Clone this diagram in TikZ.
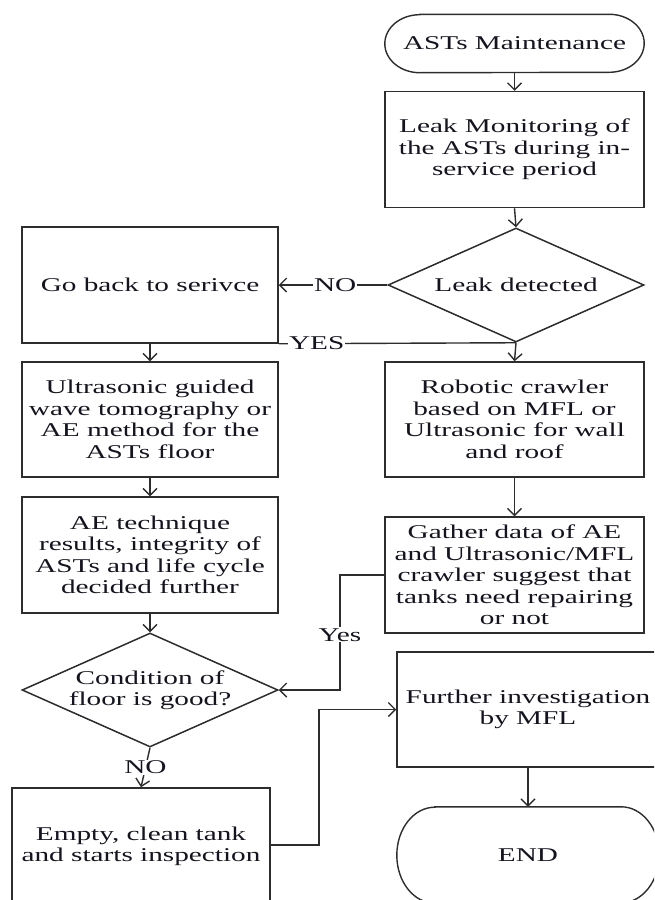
\documentclass[tikz,border=0pt]{standalone}
\usepackage{fontspec}
\setmainfont{Liberation Serif}[FakeStretch=1.5]
\usetikzlibrary{arrows.meta,shapes.geometric}
\definecolor{ln}{RGB}{45,45,45}
\definecolor{tx}{RGB}{20,20,30}
\begin{document}
\begin{tikzpicture}[x=1pt,y=-1pt,
  every node/.style={font=\fontsize{19.5}{21.5}\selectfont, text=tx},
  box/.style={draw=ln, line width=1.5pt, rectangle, inner sep=0pt, align=center},
  term/.style={draw=none, rectangle, inner sep=0pt, align=center},
  dec/.style={draw=ln, line width=1.5pt, diamond, aspect=2.25, inner sep=0pt, align=center,
    minimum width=256pt, minimum height=114pt},
  ln/.style={draw=ln, line width=1.4pt},
  ar/.style={draw=ln, line width=1.4pt, -{Straight Barb[length=7pt,width=14pt]}},
  lab/.style={fill=white, inner sep=1pt}
]
\useasboundingbox (0,0) rectangle (654,900);
\clip (0,0) rectangle (654,900);

% start terminal
\node[term, minimum width=259pt, minimum height=58pt] (start) at (514.5,43.5) {ASTs Maintenance};
\draw[ln] ([xshift=35pt]start.north west) -- ([xshift=-35pt]start.north east)
  arc[start angle=90,end angle=-90,x radius=35pt,y radius=29pt]
  -- ([xshift=35pt]start.south west)
  arc[start angle=270,end angle=90,x radius=35pt,y radius=29pt] -- cycle;

\node[box, minimum width=259pt, minimum height=116pt] (mon) at (514.5,149.5)
  {Leak Monitoring of\\the ASTs during in-\\service period};
\node[dec] (d1) at (516,285) {Leak detected};
\node[box, minimum width=256pt, minimum height=116pt] (back) at (150,285) {Go back to serivce};
\node[box, minimum width=256pt, minimum height=115pt] (ultra) at (150,419.5)
  {Ultrasonic guided\\wave tomography or\\AE method for the\\ASTs floor};
\node[box, minimum width=259pt, minimum height=115pt] (robot) at (514.5,419.5)
  {Robotic crawler\\based on MFL or\\Ultrasonic for wall\\and roof};
\node[box, minimum width=256pt, minimum height=116pt] (ae) at (150,555)
  {AE technique\\results, integrity of\\ASTs and life cycle\\decided further};
\node[box, minimum width=259pt, minimum height=116pt] (gather) at (514.5,575)
  {Gather data of AE\\and Ultrasonic/MFL\\crawler suggest that\\tanks need repairing\\or not};
\node[dec] (d2) at (150,690) {Condition of\\floor is good?};
\node[box, minimum width=258pt, minimum height=117pt] (empty) at (141,846.5)
  {Empty, clean tank\\and starts inspection};
\node[box, minimum width=262pt, minimum height=115pt] (further) at (528,709.5)
  {Further investigation\\by MFL};

% end terminal
\node[term, minimum width=262pt, minimum height=96pt] (end) at (528,855) {END};
\draw[ln] ([xshift=38pt]end.north west) -- ([xshift=-38pt]end.north east)
  arc[start angle=90,end angle=-90,x radius=38pt,y radius=48pt]
  -- ([xshift=38pt]end.south west)
  arc[start angle=270,end angle=90,x radius=38pt,y radius=48pt] -- cycle;

% connectors
\draw[ar] (start.south) -- (mon.north);
\draw[ar] (mon.south) -- (d1.north);
\draw[ar] (d1.west) -- node[lab, pos=0.48] {NO} (back.east);
\draw[ln] (d1.south) -- node[lab, pos=0.84] {YES} (back.south east);
\draw[ar] (d1.south) -- (robot.north);
\draw[ar] (back.south) -- (ultra.north);
\draw[ar] (ultra.south) -- (ae.north);
\draw[ar] (robot.south) -- (gather.north);
\draw[ar] (ae.south) -- (d2.north);
\coordinate (yc) at (340,575);
\draw[ar] (gather.west) -- (yc) -- node[lab, pos=0.52] {Yes} (yc |- d2.east) -- (d2.east);
\draw[ar] (d2.south) -- node[lab, pos=0.5] {NO} (empty.north);
\coordinate (ec) at (319,845);
\draw[ar] (empty.east |- ec) -- (ec) -- (ec |- further.west) -- (further.west);
\draw[ar] (further.south) -- (end.north);
\end{tikzpicture}
\end{document}
